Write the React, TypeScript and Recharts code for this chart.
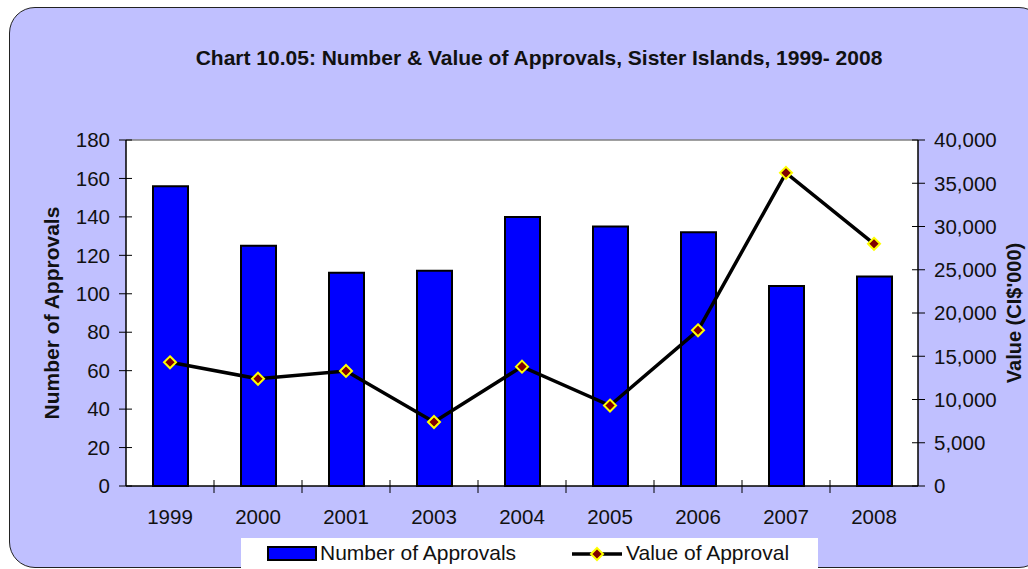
import {
  ComposedChart,
  Bar,
  Line,
  XAxis,
  YAxis,
  CartesianGrid,
  ReferenceLine,
  Legend,
} from "recharts";

const years = ["1999", "2000", "2001", "2003", "2004", "2005", "2006", "2007", "2008"];
const approvals = [156, 125, 111, 112, 140, 135, 132, 104, 109];
const approvalValues = [14300, 12400, 13300, 7400, 13800, 9300, 18000, 36200, 28000];
const leftTicks = [0, 20, 40, 60, 80, 100, 120, 140, 160, 180];
const rightTicks = [0, 5000, 10000, 15000, 20000, 25000, 30000, 35000, 40000];

const data = years.map((year, i) => ({
  year,
  "Number of Approvals": approvals[i],
  "Value of Approval": approvalValues[i],
}));

const FONT = "Arial, 'Liberation Sans', sans-serif";

// axis ticks in the original cross the axis line, so draw them by hand
const LeftTick = (props: any) => {
  const { x, y, payload } = props;
  return (
    <g>
      <line x1={x + 9} x2={x + 22} y1={y} y2={y} stroke="#000" strokeWidth={1} />
      <text x={x} y={y} dy="0.355em" textAnchor="end" fontSize={20.5} fill="#111" fontFamily={FONT}>
        {payload.value}
      </text>
    </g>
  );
};

const RightTick = (props: any) => {
  const { x, y, payload } = props;
  return (
    <g>
      <line x1={x - 22} x2={x - 9} y1={y} y2={y} stroke="#000" strokeWidth={1} />
      <text x={x} y={y} dy="0.355em" textAnchor="start" fontSize={20.5} fill="#111" fontFamily={FONT}>
        {Number(payload.value).toLocaleString("en-US")}
      </text>
    </g>
  );
};

const BottomTick = (props: any) => {
  const { x, y, payload, index } = props;
  const half = payload.offset || 44;
  const axisY = y - 23;
  return (
    <g>
      {index > 0 && (
        <line x1={x - half} x2={x - half} y1={axisY - 6} y2={axisY + 7} stroke="#000" strokeWidth={1} />
      )}
      <text x={x} y={y} dy="0.71em" textAnchor="middle" fontSize={20.5} fill="#111" fontFamily={FONT}>
        {payload.value}
      </text>
    </g>
  );
};

const Diamond = (props: any) => {
  const { cx, cy } = props;
  if (cx == null || cy == null) return null;
  const r = 6;
  return (
    <polygon
      points={`${cx},${cy - r} ${cx + r},${cy} ${cx},${cy + r} ${cx - r},${cy}`}
      fill="#800000"
      stroke="#FFFF00"
      strokeWidth={2}
    />
  );
};

const LegendBox = () => (
  <div
    style={{
      background: "#fff",
      width: 577,
      height: 40,
      position: "relative",
      fontFamily: FONT,
      fontSize: 21,
      color: "#111",
    }}
  >
    <svg width={577} height={40} style={{ position: "absolute", left: 0, top: 0 }}>
      <rect x={27} y={9} width={48} height={13} fill="#0000FF" stroke="#000" strokeWidth={2} />
      <line x1={331} x2={381} y1={16} y2={16} stroke="#000" strokeWidth={3.5} />
      <Diamond cx={356} cy={16} />
    </svg>
    <span style={{ position: "absolute", left: 79, top: 3 }}>Number of Approvals</span>
    <span style={{ position: "absolute", left: 385, top: 3 }}>Value of Approval</span>
  </div>
);

export default function App() {
  return (
    <div
      style={{
        position: "absolute",
        left: 0,
        top: 0,
        width: 1028,
        height: 569,
        overflow: "hidden",
        background: "#fff",
        fontFamily: FONT,
      }}
    >
      <div
        style={{
          position: "absolute",
          left: 9,
          top: 7,
          width: 1036,
          height: 561,
          boxSizing: "border-box",
          background: "#C0C0FF",
          border: "1.5px solid #222",
          borderRadius: 26,
        }}
      />
      <div
        style={{
          position: "absolute",
          left: 0,
          width: 1078,
          top: 46,
          textAlign: "center",
          fontWeight: "bold",
          fontSize: 21,
          color: "#111",
        }}
      >
        Chart 10.05: Number &amp; Value of Approvals, Sister Islands, 1999- 2008
      </div>
      <div
        style={{
          position: "absolute",
          left: 52,
          top: 313,
          transform: "translate(-50%, -50%) rotate(-90deg)",
          whiteSpace: "nowrap",
          fontWeight: "bold",
          fontSize: 21,
          color: "#111",
        }}
      >
        Number of Approvals
      </div>
      <div
        style={{
          position: "absolute",
          left: 1014,
          top: 313,
          transform: "translate(-50%, -50%) rotate(-90deg)",
          whiteSpace: "nowrap",
          fontWeight: "bold",
          fontSize: 20,
          color: "#111",
        }}
      >
        Value (CI$'000)
      </div>
      <div style={{ position: "absolute", left: 0, top: 0 }}>
        <ComposedChart
          width={1028}
          height={569}
          data={data}
          margin={{ top: 140, right: 0, left: 0, bottom: 43 }}
        >
          <CartesianGrid fill="#fff" horizontal={false} vertical={false} />
          <XAxis
            dataKey="year"
            height={40}
            tickLine={false}
            tickSize={7}
            tickMargin={16}
            axisLine={{ stroke: "#000", strokeWidth: 1.5 }}
            tick={<BottomTick />}
            interval={0}
          />
          <YAxis
            yAxisId="left"
            width={126}
            domain={[0, 180]}
            ticks={leftTicks}
            tickLine={false}
            tickSize={7}
            tickMargin={9}
            axisLine={{ stroke: "#000", strokeWidth: 1.5 }}
            tick={<LeftTick />}
            interval={0}
          />
          <YAxis
            yAxisId="right"
            orientation="right"
            width={110}
            domain={[0, 40000]}
            ticks={rightTicks}
            tickLine={false}
            tickSize={7}
            tickMargin={9}
            axisLine={{ stroke: "#000", strokeWidth: 1.5 }}
            tick={<RightTick />}
            interval={0}
          />
          <ReferenceLine yAxisId="left" y={180} stroke="#808080" strokeWidth={1.5} />
          <Bar
            yAxisId="left"
            dataKey="Number of Approvals"
            fill="#0000FF"
            stroke="#000"
            strokeWidth={2}
            barSize={35}
            isAnimationActive={false}
          />
          <Line
            yAxisId="right"
            dataKey="Value of Approval"
            type="linear"
            stroke="#000"
            strokeWidth={3.5}
            dot={<Diamond />}
            activeDot={false}
            isAnimationActive={false}
          />
          <Legend
            layout="horizontal"
            verticalAlign="middle"
            align="center"
            content={<LegendBox />}
            wrapperStyle={{ left: 241, top: 538, width: 577, height: 40 }}
          />
        </ComposedChart>
      </div>
    </div>
  );
}
